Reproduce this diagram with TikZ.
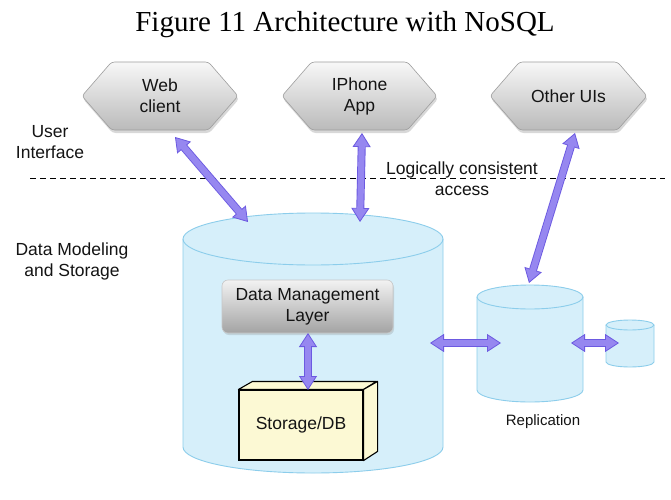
\documentclass[tikz,border=0pt]{standalone}
\usepackage{fontspec}
\setmainfont{Liberation Sans}
\newfontfamily\titlefont{Liberation Serif}
\usetikzlibrary{shapes.symbols,arrows.meta,shadows}
\definecolor{cylfill}{RGB}{214,239,250}
\definecolor{cyldraw}{RGB}{140,205,235}
\definecolor{arrowfill}{RGB}{150,135,240}
\definecolor{arrowdark}{RGB}{108,90,225}
\definecolor{boxyellow}{RGB}{252,249,212}
\definecolor{txt}{RGB}{20,20,20}
\newcommand\drawcyl[5]{%
  \fill[cylfill] (#1-#4,#2) -- (#1-#4,#3) arc[start angle=180,end angle=360,x radius=#4,y radius=#5] -- (#1+#4,#2) arc[start angle=0,end angle=180,x radius=#4,y radius=#5] -- cycle;
  \draw[cyldraw,line width=0.9pt] (#1-#4,#2) -- (#1-#4,#3) arc[start angle=180,end angle=360,x radius=#4,y radius=#5] -- (#1+#4,#2);
  \draw[cyldraw,line width=0.9pt] (#1,#2) ellipse[x radius=#4,y radius=#5];
}
\newcommand\fat[2]{%
  \draw[fatarrow] (#1) -- (#2);
  \draw[fatshaft] (#1) -- (#2);
}
\tikzset{
  lbl/.style={font=\fontsize{17.5}{21}\selectfont, text=txt, align=center, inner sep=0pt},
  hexa/.style={signal, signal to=west and east, signal pointer angle=98,
    minimum height=68pt, inner sep=2pt, rounded corners=3pt,
    draw=black!38, line width=0.6pt, top color=black!3, bottom color=black!27,
    drop shadow={opacity=0.3, shadow xshift=1pt, shadow yshift=-3pt},
    font=\fontsize{17.5}{21}\selectfont, text=txt, align=center},
  dmlbox/.style={rectangle, rounded corners=6pt, minimum width=171pt, minimum height=53pt,
    draw=black!22, line width=0.6pt, top color=black!5, bottom color=black!36,
    drop shadow={opacity=0.25, shadow xshift=1pt, shadow yshift=-2pt},
    font=\fontsize{17.5}{21}\selectfont, text=txt, align=center, inner sep=2pt},
  stbox/.style={draw=black, line width=1.1pt, fill=boxyellow},
  fatarrow/.style={line width=8pt, draw=arrowdark,
    {Triangle[width=18pt,length=14pt,line width=0.8pt,fill=arrowfill]}-{Triangle[width=18pt,length=14pt,line width=0.8pt,fill=arrowfill]}},
  fatshaft/.style={line width=6.2pt, draw=arrowfill, shorten <=12.5pt, shorten >=12.5pt},
}
\begin{document}
\begin{tikzpicture}[x=1pt,y=1pt]
\useasboundingbox[fill=white] (0,0) rectangle (671,499);

% title
\node[font=\titlefont\fontsize{29}{33}\selectfont, inner sep=0pt] (title) at (345,474) {Figure 11 Architecture with NoSQL};

% side labels
\node[lbl] (ui) at (50,357) {User\\Interface};
\node[lbl] (dms) at (72,238) {Data Modeling\\and Storage};

% dashed separator
\coordinate (dashL) at (30,321);
\coordinate (dashR) at (665,321);
\draw[line width=1pt, dash pattern=on 6pt off 4pt] (dashL) -- (dashR);
\node[lbl] (logic) at (462,320) {Logically consistent\\access};

% UI hexagons
\node[hexa, minimum width=156pt] (web) at (160,403) {Web\\client};
\node[hexa, minimum width=155pt] (iphone) at (359.5,403) {IPhone\\App};
\node[hexa, minimum width=157pt] (other) at (568.5,403) {Other UIs};

% cylinders
\drawcyl{313}{260}{52}{130}{26}
\coordinate (bigcyl) at (313,156);
\drawcyl{530}{202}{109}{53}{12}
\coordinate (repcyl) at (530,156);
\drawcyl{630}{174}{137}{24}{5}
\coordinate (tinycyl) at (630,156);
\node[font=\fontsize{15}{18}\selectfont, text=txt, inner sep=0pt] (repl) at (543,77) {Replication};

% data management layer
\node[dmlbox] (dml) at (307.5,192.5) {Data Management\\Layer};

% storage box
\node[stbox, minimum width=124pt, minimum height=70pt, inner sep=0pt,
      font=\fontsize{17.5}{21}\selectfont, text=txt] (storage) at (301,74) {Storage/DB};
\draw[stbox, line join=round] (storage.north west) -- ++(14,8) -- ++(124,0) -- (storage.north east) -- cycle;
\draw[stbox, line join=round] (storage.north east) -- ++(14,8) -- ++(0,-70) -- (storage.south east) -- cycle;

% arrows
\coordinate (w1) at (175,362); \coordinate (w2) at (248,277);
\coordinate (i1) at (362,366); \coordinate (i2) at (360,277);
\coordinate (o1) at (575,366); \coordinate (o2) at (529,216);
\coordinate (d1) at (308,166); \coordinate (d2) at (308,109);
\coordinate (b1) at (430,156); \coordinate (b2) at (501,156);
\coordinate (r1) at (571,156); \coordinate (r2) at (619,156);
\fat{w1}{w2}
\fat{i1}{i2}
\fat{o1}{o2}
\fat{d1}{d2}
\fat{b1}{b2}
\fat{r1}{r2}
\end{tikzpicture}
\end{document}
